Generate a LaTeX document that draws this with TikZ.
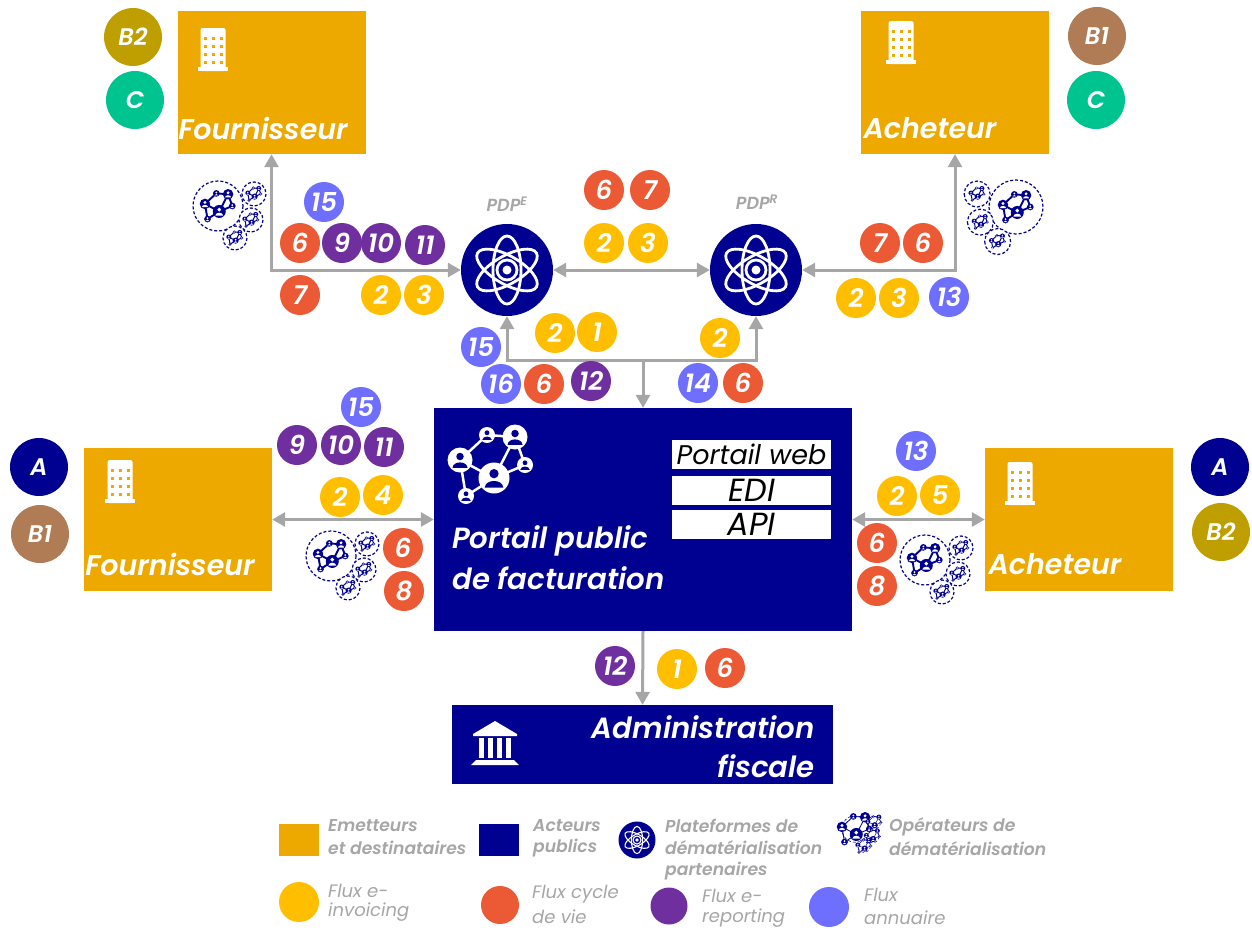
\documentclass[tikz,border=0pt]{standalone}
\usepackage{fontspec}
\setmainfont{Poppins}[BoldFont={Poppins SemiBold}, BoldItalicFont={Poppins SemiBold Italic}]
\usetikzlibrary{arrows.meta}

\definecolor{boxamber}{HTML}{EDA900}
\definecolor{navyblue}{HTML}{000091}
\definecolor{flowyellow}{HTML}{FFBF00}
\definecolor{flowred}{HTML}{EB5A34}
\definecolor{flowpurple}{HTML}{6F2F9F}
\definecolor{flowblue}{HTML}{6E6EFF}
\definecolor{tagolive}{HTML}{BF9F00}
\definecolor{taggreen}{HTML}{00C48F}
\definecolor{tagbrown}{HTML}{B07C55}
\definecolor{linegrey}{HTML}{A6A6A6}

\newcommand{\fsize}[1]{\fontsize{#1}{#1}\selectfont}
% one person in the network icon: colours, then x, y, radius
\newcommand{\peerdot}[5]{%
  \begin{scope}[shift={(#3,#4)}, scale=#5]
    \fill [#1] (0, 0) circle (1);
    \fill [#2] (0, -0.28) circle (0.3);
    \fill [#2] (-0.6, 0.62) .. controls (-0.55, 0.05) and (0.55, 0.05) .. (0.6, 0.62) -- cycle;
  \end{scope}}

\tikzset{
  badge/.style={circle, minimum size=40pt, inner sep=0pt, text=white, font=\fsize{26}\itshape\bfseries},
  tag/.style={circle, minimum size=58pt, inner sep=0pt, text=white, font=\fsize{24}\itshape\bfseries},
  invoicing/.style={badge, fill=flowyellow},
  lifecycle/.style={badge, fill=flowred},
  reporting/.style={badge, fill=flowpurple},
  directory/.style={badge, fill=flowblue},
  actorbox/.style={minimum width=188pt, minimum height=143pt, inner sep=0pt, fill=boxamber},
  actorname/.style={inner sep=0pt, text=white, font=\fsize{28.5}\itshape\bfseries},
  platform/.style={circle, minimum size=92pt, inner sep=0pt, fill=navyblue},
  platformname/.style={inner sep=0pt, text=linegrey, font=\fsize{17.5}\itshape\bfseries},
  accessbox/.style={minimum width=159pt, minimum height=29pt, inner sep=0pt, fill=white, font=\fsize{32}\itshape},
  legendbold/.style={anchor=west, inner sep=0pt, text=linegrey, font=\fsize{17.2}\itshape\bfseries},
  legendthin/.style={anchor=west, inner sep=0pt, text=linegrey, font=\fsize{18}\itshape},
  bignamew/.style={anchor=west, inner sep=0pt, text=white, font=\fsize{29.2}\itshape\bfseries},
  bignamee/.style={anchor=east, inner sep=0pt, text=white, font=\fsize{29.2}\itshape\bfseries},
  flowline/.style={draw=linegrey, line width=3pt,
    arrows={-Triangle[length=13pt, width=14pt, fill=linegrey]}},
  flowboth/.style={flowline, arrows={Triangle[length=13pt, width=14pt, fill=linegrey]-Triangle[length=13pt, width=14pt, fill=linegrey]}},
  pics/building/.style={code={
    \fill [white, rounded corners=2pt] (-12.5, 22) -- (-12.5, -21) -- (12.5, -21) -- (12.5, 22) -- cycle;
    \fill [white] (-15, 18) rectangle (15, 22);
    \foreach \col in {-8, 0, 8} {
      \foreach \row in {-11, -3, 5, 13} {
        \fill [boxamber] (\col-1.5, \row-1.5) rectangle (\col+1.5, \row+1.5);
      }
    }
  }},
  pics/atom/.style args={#1 width #2}{code={
    \draw [#1, line width=#2] (0, 0) ellipse (14 and 34);
    \draw [#1, line width=#2, rotate=60] (0, 0) ellipse (14 and 34);
    \draw [#1, line width=#2, rotate=-60] (0, 0) ellipse (14 and 34);
    \fill [navyblue] (0, 0) circle (11);
    \draw [#1, line width=#2] (0, 0) circle (10);
    \fill [#1] (0, 0) circle (4.5);
  }},
  pics/peers/.style args={#1 on #2 width #3}{code={
    \draw [#1, line width=#3] (-4, -30) -- (24, -28) -- (3, 13) -- (-31, -5) -- cycle;
    \draw [#1, line width=#3] (24, -28) -- (34, 0) -- (3, 13) -- (-25, 31) -- (-31, -5);
    \peerdot{#1}{#2}{-4}{-30}{8}
    \peerdot{#1}{#2}{24}{-28}{12.5}
    \peerdot{#1}{#2}{-31}{-5}{12.5}
    \peerdot{#1}{#2}{3}{13}{15.5}
    \peerdot{#1}{#2}{34}{0}{8}
    \peerdot{#1}{#2}{-25}{31}{8}
  }},
  % the argument thins the strokes when the cluster is scaled down
  pics/cluster/.style={code={
    \tikzset{clusterring/.style={draw=navyblue, line width=1.2pt*#1, densely dashed, fill=white}}
    \draw [clusterring] (0, 0) circle (25);
    \draw [clusterring] (36, -12) circle (12);
    \draw [clusterring] (33, 14) circle (12);
    \draw [clusterring] (17, 32) circle (12);
    \pic [scale=0.42] at (0, 0) {peers=navyblue on white width 1.9pt*#1};
    \pic [scale=0.2] at (36, -12) {peers=navyblue on white width 1pt*#1};
    \pic [scale=0.2] at (33, 14) {peers=navyblue on white width 1pt*#1};
    \pic [scale=0.2] at (17, 32) {peers=navyblue on white width 1pt*#1};
  }},
  pics/temple/.style={code={
    \fill [white] (-22, -9) -- (0, -22) -- (22, -9) -- (22, -7) -- (-22, -7) -- cycle;
    \fill [white] (-16.25, -5) rectangle (-10.75, 15);
    \fill [white] (-7.25, -5) rectangle (-1.75, 15);
    \fill [white] (1.75, -5) rectangle (7.25, 15);
    \fill [white] (10.75, -5) rectangle (16.25, 15);
    \fill [white] (-19, 17) -- (19, 17) -- (24, 22) -- (-24, 22) -- cycle;
  }},
}

\begin{document}
\begin{tikzpicture}[x=1pt, y=-1pt]
  \useasboundingbox (0, 0) rectangle (1252, 929);

  % boxes of the four companies
  \node [actorbox] (supplierTop) at (271.5, 82.5) {};
  \node [actorbox] (buyerTop) at (955, 82.5) {};
  \node [actorbox] (supplierLow) at (178, 519.5) {};
  \node [actorbox] (buyerLow) at (1079, 519.5) {};
  \node [actorname] (supplierTopName) at (263, 128) {Fournisseur};
  \node [actorname] (buyerTopName) at (930, 128) {Acheteur};
  \node [actorname] (supplierLowName) at (170, 564) {Fournisseur};
  \node [actorname] (buyerLowName) at (1055, 564) {Acheteur};
  \pic at (213, 49) {building};
  \pic at (901, 42) {building};
  \pic at (120, 481) {building};
  \pic at (1020, 483) {building};

  % central boxes
  \node [minimum width=418pt, minimum height=223pt, inner sep=0pt, fill=navyblue] (portal) at (643, 519.5) {};
  \node [minimum width=381pt, minimum height=79pt, inner sep=0pt, fill=navyblue] (admin) at (642.5, 744.5) {};
  \node [bignamew] (portalNameA) at (452, 541) {Portail public};
  \node [bignamew] (portalNameB) at (452, 578) {de facturation};
  \node [bignamee] (adminNameA) at (815, 727) {Administration};
  \node [bignamee] (adminNameB) at (815, 766) {fiscale};
  \node [accessbox, font=\fsize{27}\itshape] (web) at (751.5, 454.5) {Portail web};
  \node [accessbox] (edi) at (751.5, 490) {EDI};
  \node [accessbox] (api) at (751.5, 524.5) {API};
  \pic at (491, 465) {peers=white on navyblue width 2.5pt};
  \pic at (495, 743) {temple};

  % platforms
  \node [platform] (pdpE) at (507, 270) {};
  \node [platform] (pdpR) at (756, 270) {};
  \pic at (pdpE) {atom=white width 2.8pt};
  \pic at (pdpR) {atom=white width 2.8pt};
  \node [platformname] (pdpEName) at (507, 204) {PDP\textsuperscript{E}};
  \node [platformname] (pdpRName) at (757, 202) {PDP\textsuperscript{R}};

  % operators
  \pic at (218, 206) {cluster=1};
  \pic [xscale=-1.08, yscale=1.08] at (1016, 207) {cluster=1};
  \pic at (331, 556) {cluster=1};
  \pic at (925, 560) {cluster=1};

  % connectors
  \coordinate (cornerLeft) at (271.5, 270);
  \coordinate (cornerRight) at (955, 270);
  \coordinate (tee) at (643, 360);
  \draw [flowboth] (supplierTop.south) -- (cornerLeft) -- (pdpE.west);
  \draw [flowboth] (buyerTop.south) -- (cornerRight) -- (pdpR.east);
  \draw [flowboth] (pdpE.east) -- (pdpR.west);
  \draw [flowboth] (pdpE.south) -- (pdpE.south |- tee) -- (pdpR.south |- tee) -- (pdpR.south);
  \draw [flowline] (tee) -- (portal.north);
  \draw [flowboth] (supplierLow.east) -- (portal.west);
  \draw [flowboth] (buyerLow.west) -- (portal.east);
  \draw [flowline] (portal.south) -- (admin.north);

  % tags next to the company boxes
  \node [tag, fill=tagolive] (tagTopB) at (133, 37) {B2};
  \node [tag, fill=taggreen] (tagTopC) at (135, 100) {C};
  \node [tag, fill=tagbrown] (tagRightB) at (1097, 36) {B1};
  \node [tag, fill=taggreen] (tagRightC) at (1096, 100) {C};
  \node [tag, fill=navyblue] (tagLowA) at (39, 467) {A};
  \node [tag, fill=tagbrown] (tagLowB) at (40, 534) {B1};
  \node [tag, fill=navyblue] (tagRightA) at (1220, 467) {A};
  \node [tag, fill=tagolive] (tagRightLowB) at (1221, 532) {B2};

  % flow numbers, top left
  \node [directory] (topLeftD) at (324, 202) {15};
  \node [lifecycle] (topLeftL) at (300, 243) {6};
  \node [reporting] (topLeftRa) at (342, 243) {9};
  \node [reporting] (topLeftRb) at (381, 243) {10};
  \node [reporting] (topLeftRc) at (425, 245) {11};
  \node [lifecycle] (topLeftM) at (300, 295) {7};
  \node [invoicing] (topLeftIa) at (381, 295) {2};
  \node [invoicing] (topLeftIb) at (424, 295) {3};
  % flow numbers, between platforms
  \node [lifecycle] (midLa) at (604, 190) {6};
  \node [lifecycle] (midLb) at (650, 190) {7};
  \node [invoicing] (midIa) at (604, 243) {2};
  \node [invoicing] (midIb) at (648, 243) {3};
  % flow numbers, top right
  \node [lifecycle] (topRightLa) at (880, 243) {7};
  \node [lifecycle] (topRightLb) at (923, 243) {6};
  \node [invoicing] (topRightIa) at (856, 298) {2};
  \node [invoicing] (topRightIb) at (899, 298) {3};
  \node [directory] (topRightD) at (949, 297) {13};
  % flow numbers, above the portal
  \node [invoicing] (portalIa) at (555, 333) {2};
  \node [invoicing] (portalIb) at (597, 332) {1};
  \node [directory] (portalDa) at (481, 347) {15};
  \node [directory] (portalDb) at (501, 384) {16};
  \node [lifecycle] (portalLa) at (544, 384) {6};
  \node [reporting] (portalR) at (591, 381) {12};
  \node [invoicing] (portalIc) at (720, 338) {2};
  \node [directory] (portalDc) at (698, 383) {14};
  \node [lifecycle] (portalLb) at (743, 383) {6};
  % flow numbers, left of the portal
  \node [directory] (leftD) at (361, 407) {15};
  \node [reporting] (leftRa) at (297, 445) {9};
  \node [reporting] (leftRb) at (341, 445) {10};
  \node [reporting] (leftRc) at (384, 447) {11};
  \node [invoicing] (leftIa) at (340, 497) {2};
  \node [invoicing] (leftIb) at (383, 495) {4};
  \node [lifecycle] (leftLa) at (403, 548) {6};
  \node [lifecycle] (leftLb) at (404, 591) {8};
  % flow numbers, right of the portal
  \node [directory] (rightD) at (916, 451) {13};
  \node [invoicing] (rightIa) at (897, 496) {2};
  \node [invoicing] (rightIb) at (940, 495) {5};
  \node [lifecycle] (rightLa) at (877, 543) {6};
  \node [lifecycle] (rightLb) at (877, 586) {8};
  % flow numbers, below the portal
  \node [reporting] (lowR) at (615, 666) {12};
  \node [invoicing] (lowI) at (677, 669) {1};
  \node [lifecycle] (lowL) at (725, 668) {6};

  % legend, first row
  \node [minimum width=40pt, minimum height=32pt, inner sep=0pt, fill=boxamber] (keyActor) at (299, 840) {};
  \node [legendbold] (keyActorA) at (328, 826) {Emetteurs};
  \node [legendbold] (keyActorB) at (328, 848) {et destinataires};
  \node [minimum width=40pt, minimum height=32pt, inner sep=0pt, fill=navyblue] (keyPublic) at (499, 840) {};
  \node [legendbold] (keyPublicA) at (533, 826) {Acteurs};
  \node [legendbold] (keyPublicB) at (533, 848) {publics};
  \node [circle, minimum size=37pt, inner sep=0pt, fill=navyblue] (keyPlatform) at (637, 840) {};
  \pic [scale=0.4] at (keyPlatform) {atom=white width 1.1pt};
  \node [legendbold] (keyPlatformA) at (665, 826) {Plateformes de};
  \node [legendbold] (keyPlatformB) at (665, 848) {dématérialisation};
  \node [legendbold] (keyPlatformC) at (665, 871) {partenaires};
  \pic [scale=0.53] at (855, 829) {cluster=0.45};
  \node [legendbold] (keyOperatorA) at (889, 827) {Opérateurs de};
  \node [legendbold] (keyOperatorB) at (889, 849) {dématérialisation};
  % legend, second row
  \node [invoicing] (keyInvoicing) at (299, 902) {};
  \node [legendthin] (keyInvoicingA) at (328, 891) {Flux e-};
  \node [legendthin] (keyInvoicingB) at (328, 912) {invoicing};
  \node [lifecycle, minimum size=38pt] (keyLife) at (500, 905) {};
  \node [legendthin] (keyLifeA) at (532, 894) {Flux cycle};
  \node [legendthin] (keyLifeB) at (532, 917) {de vie};
  \node [reporting, minimum size=37pt] (keyReporting) at (669, 906) {};
  \node [legendthin] (keyReportingA) at (702, 896) {Flux e-};
  \node [legendthin] (keyReportingB) at (702, 918) {reporting};
  \node [directory] (keyDirectory) at (829, 907) {};
  \node [legendthin] (keyDirectoryA) at (864, 895) {Flux};
  \node [legendthin] (keyDirectoryB) at (864, 918) {annuaire};
\end{tikzpicture}
\end{document}
